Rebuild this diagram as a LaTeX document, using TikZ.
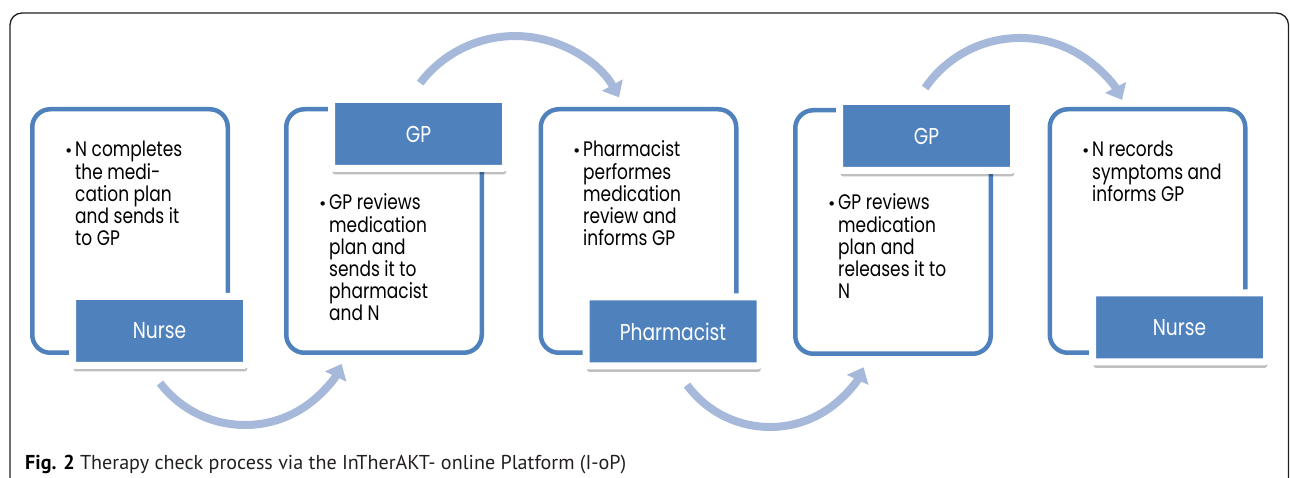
\documentclass[tikz,border=0pt]{standalone}
\usepackage{fontspec}
\usetikzlibrary{arrows.meta,shadows}
\newfontfamily\twfont[FakeStretch=0.81]{Poppins}
\newfontfamily\capfont{PT Sans}
\newfontfamily\bulletfont{DejaVu Sans}
\definecolor{boxblue}{RGB}{79,129,189}
\definecolor{arrowblue}{RGB}{166,185,218}
\definecolor{framegray}{RGB}{35,31,32}
\tikzset{
  bigbox/.style={draw=boxblue, line width=4.5pt, fill=white, rounded corners=18pt,
    minimum width=195.5pt, minimum height=243.5pt, inner sep=0pt},
  rolebox/.style={fill=boxblue, draw=white, line width=7pt, rounded corners=3pt,
    minimum width=174pt, minimum height=69pt, inner sep=0pt, text=white,
    font=\twfont\fontsize{23}{24}\selectfont,
    drop shadow={shadow xshift=0.8pt, shadow yshift=-6pt, opacity=0.25, fill=black}},
  bodytext/.style={anchor=base west, align=left, inner sep=0pt, text=black,
    font=\twfont\fontsize{21}{22.2}\selectfont},
  flow/.style={draw=arrowblue, line width=8pt, -{Triangle[width=23pt,length=14pt]}},
  frame/.style={draw=framegray, line width=1.3pt, rounded corners=12pt},
  caption/.style={anchor=base west, inner sep=0pt, text=framegray,
    font=\capfont\fontsize{20.1}{22}\selectfont}
}
\newcommand{\bul}{\llap{{\bulletfont\fontsize{15}{15}\selectfont •}\hspace{2pt}}}
\begin{document}
\begin{tikzpicture}[x=1pt,y=1pt]
\useasboundingbox (0,0) rectangle (1290,478);
% outer frame
\coordinate (fbl) at (10,-5);
\coordinate (ftl) at (10,465);
\coordinate (ftr) at (1288.5,465);
\coordinate (fbr) at (1288.5,-5);
\draw[frame] (fbl) -- (ftl) -- (ftr) -- (fbr);

% big boxes
\node[bigbox] (b1) at (130,247) {};
\node[bigbox] (b2) at (384,247) {};
\node[bigbox] (b3) at (638.5,247) {};
\node[bigbox] (b4) at (893,246) {};
\node[bigbox] (b5) at (1147.5,247) {};

% body texts (anchor = baseline of last line)
\node[bodytext] (t1) at (75,232.2) {\bul N completes\\the medi-\\cation plan\\and sends it\\to GP};
\node[bodytext] (t2) at (329,157) {\bul GP reviews\\medication\\plan and\\sends it to\\pharmacist\\and N};
\node[bodytext] (t3) at (583,232.2) {\bul Pharmacist\\performes\\medication\\review and\\informs GP};
\node[bodytext] (t4) at (838,179.2) {\bul GP reviews\\medication\\plan and\\releases it to\\N};
\node[bodytext] (t5) at (1092,276.6) {\bul N records\\symptoms and\\informs GP};

% role labels
\node[rolebox] (l1) at (159.5,147) {Nurse};
\node[rolebox] (l2) at (418.5,344) {GP};
\node[rolebox] (l3) at (673,146.5) {Pharmacist};
\node[rolebox] (l4) at (926.5,342) {GP};
\node[rolebox] (l5) at (1179.5,150.5) {Nurse};

% arrows
\coordinate (a1s) at (160,95);
\coordinate (a2s) at (420.2,394.9);
\coordinate (a3s) at (687,93);
\coordinate (a4s) at (925.1,390);
\draw[flow] (a1s) arc[start angle=217.4, end angle=334.6, radius=107];
\draw[flow] (a2s) arc[start angle=142.8, end angle=29, radius=119];
\draw[flow] (a3s) arc[start angle=216.3, end angle=335.2, radius=103];
\draw[flow] (a4s) arc[start angle=145.6, end angle=27.5, radius=115];

% caption
\node[caption] (cap) at (25,8) {{\bfseries\color{black}Fig. 2} Therapy check process via the InTherAKT- online Platform (I-oP)};
\end{tikzpicture}
\end{document}
